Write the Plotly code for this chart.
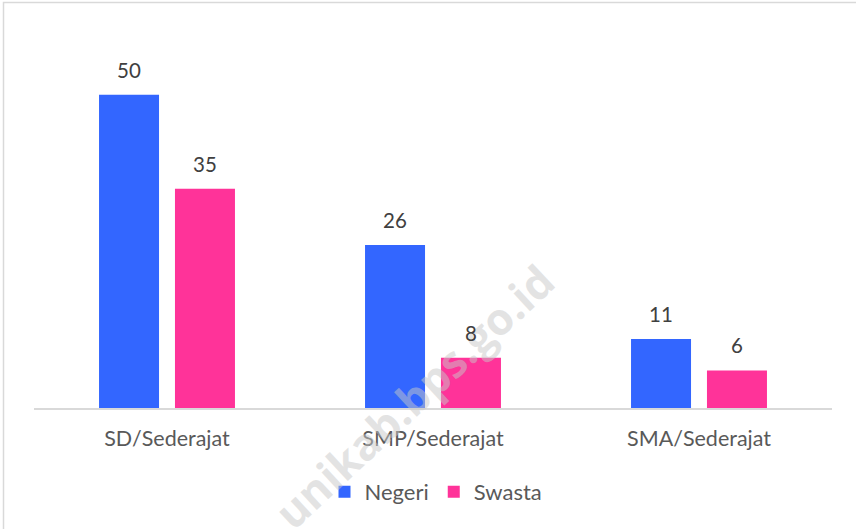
import plotly.graph_objects as go

categories = ["SD/Sederajat", "SMP/Sederajat", "SMA/Sederajat"]
negeri = [50, 26, 11]
swasta = [35, 8, 6]
series_names = ["Negeri", "Swasta"]
colors = ["#3366FF", "#FF3399"]
watermark = "unikab.bps.go.id"

FONT = "Lato, Carlito, Calibri, sans-serif"

W, H = 856, 529
L, T = 34, 32
R = W - 832
B = H - 408
pw, ph = W - L - R, H - T - B

def px2paper(x, y):
    """window pixel -> paper coords"""
    return (x - L) / pw, (H - B - y) / ph

fig = go.Figure()
for name, vals, col in zip(series_names, [negeri, swasta], colors):
    fig.add_trace(go.Bar(
        x=categories, y=vals, name=name,
        marker=dict(color=col, line=dict(width=0)),
    ))

# watermark
wx, wy = px2paper(414, 396)
fig.add_annotation(
    x=wx, y=wy, xref="paper", yref="paper", text="<b>" + watermark + "</b>",
    xanchor="center", yanchor="middle",
    showarrow=False, textangle=-43,
    font=dict(family="Open Sans, sans-serif", size=44, color="rgba(200,200,200,0.5)"),
)

# value labels
for vals, shift in zip([negeri, swasta], [-38, 38]):
    for c, v in zip(categories, vals):
        fig.add_annotation(
            x=c, y=v, text=str(v), showarrow=False, xref="x", yref="y",
            xshift=shift, yshift=25, yanchor="middle",
            font=dict(family=FONT, size=20.5, color="#404040"),
        )

# outer chart border (partially outside view)
x0, y1 = px2paper(3.5, 2.5)
x1, y0 = px2paper(900, 600)
fig.add_shape(type="rect", xref="paper", yref="paper", x0=x0, y0=y0, x1=x1, y1=y1,
              line=dict(color="#D9D9D9", width=1.5), layer="below")

lx, ly = px2paper(436, 492)
fig.update_layout(
    width=W, height=H,
    margin=dict(l=L, r=R, t=T, b=B),
    paper_bgcolor="white", plot_bgcolor="white",
    barmode="group", bargap=0.429, bargroupgap=0.21,
    font=dict(family=FONT, size=20, color="#595959"),
    xaxis=dict(
        showgrid=False, showline=True, linecolor="#D9D9D9", linewidth=1.5,
        ticks="", tickfont=dict(family=FONT, size=21.5, color="#595959"),
        ticklabelstandoff=10,
    ),
    yaxis=dict(range=[0, 60], showgrid=False, showticklabels=False,
               zeroline=False, showline=False),
    legend=dict(orientation="h", x=lx, xanchor="center", y=ly, yanchor="middle",
                font=dict(family=FONT, size=22, color="#595959"),
                itemwidth=30, tracegroupgap=0),
    showlegend=True,
)

fig.write_html(
    "out.html",
    config={"displayModeBar": False},
    post_script="document.body.style.margin='0';document.body.style.overflow='hidden';",
)
